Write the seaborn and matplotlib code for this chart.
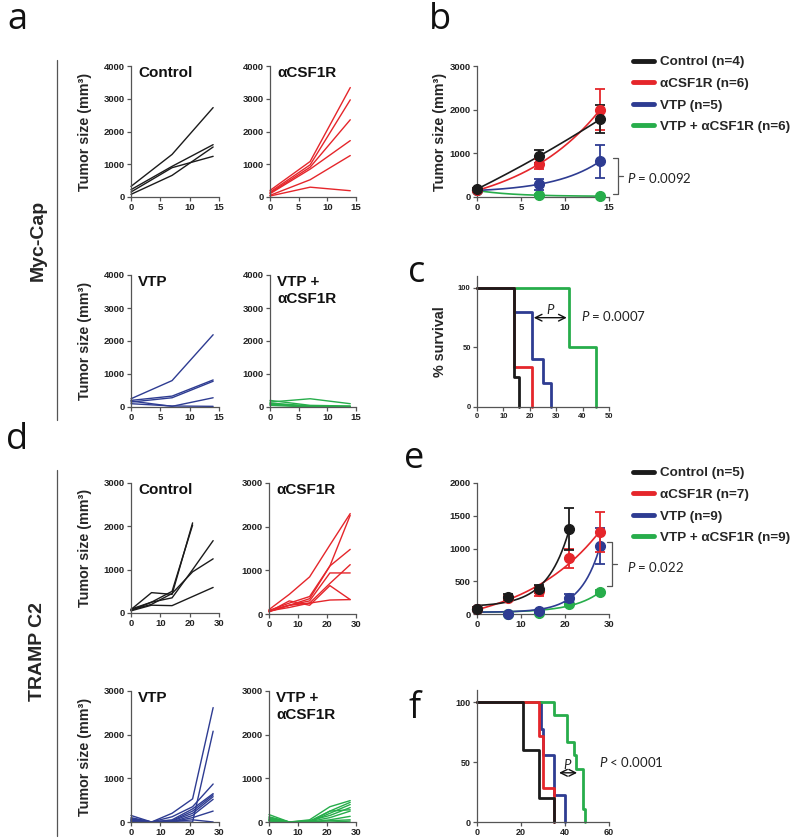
import numpy as np
import pandas as pd
import matplotlib
matplotlib.use("Agg")
import matplotlib.pyplot as plt
import seaborn as sns
from matplotlib.lines import Line2D

sns.set_theme(style="ticks")
plt.rcParams["font.family"] = ["Liberation Sans", "DejaVu Sans"]
plt.rcParams["mathtext.fontset"] = "custom"
plt.rcParams["mathtext.it"] = "Lato:italic"
plt.rcParams["mathtext.rm"] = "Lato"

# ---------------- data ----------------
groups = ["Control", "αCSF1R", "VTP", "VTP + αCSF1R"]
colors = ["#1b1b1b", "#e5262b", "#2e3c92", "#27ad4b"]

# Myc-Cap individual tumours (days 0, 7, 14)
days_mc = [0, 7, 14]
mc_control = [[324, 1300, 2730], [224, 936, 1598], [153, 895, 1242], [81, 660, 1527]]
mc_acsf = [[200, 1084, 3342], [150, 982, 2967], [120, 911, 2359], [100, 851, 1722],
           [50, 527, 1266], [30, 300, 192]]
mc_vtp = [[250, 800, 2190], [200, 330, 820], [150, 280, 780], [180, 20, 280], [100, 30, 20]]
mc_combo = [[150, 250, 100], [200, 50, 30], [100, 20, 10], [120, 30, 0], [80, 10, 20], [50, 0, 0]]

# TRAMP C2 individual tumours (days 0, 7, 14, 21, 28)
days_tr = [0, 7, 14, 21, 28]
tr_control = [[80, 470, 430, 2080, None], [60, 250, 500, 2030, None],
              [90, 250, 350, 1000, 1670], [70, 200, 450, 950, 1250],
              [50, 180, 170, 380, 590]]
tr_acsf = [[100, 450, 850, 1580, 2300], [50, 200, 350, 1100, 2260],
           [80, 250, 400, 1100, 1480], [60, 200, 300, 940, 940],
           [70, 150, 250, 700, 1130], [50, 300, 200, 650, 330],
           [80, 200, 250, 320, 330]]
tr_vtp = [[150, 0, 200, 530, 2620], [100, 0, 0, 0, 2080], [80, 0, 120, 350, 870],
          [50, 0, 50, 300, 650], [30, 0, 30, 250, 620], [60, 0, 20, 200, 580],
          [40, 0, 0, 150, 520], [20, 0, 0, 100, 250], [10, 0, 10, 50, 0]]
tr_combo = [[170, 0, 50, 350, 490], [120, 0, 20, 250, 450], [80, 0, 0, 200, 400],
            [60, 0, 30, 150, 330], [50, 0, 10, 100, 250], [40, 0, 0, 50, 130],
            [30, 0, 0, 30, 50], [20, 0, 0, 0, 20], [100, 0, 0, 250, 280]]

# panel b: mean ± SEM
b_days = [0, 7, 14]
b_mean = [[180, 930, 1780], [150, 750, 2000], [150, 290, 820], [150, 40, 20]]
b_err = [[30, 150, 320], [30, 110, 470], [20, 130, 375], [20, 20, 10]]
b_labels = ["Control (n=4)", "αCSF1R (n=6)", "VTP (n=5)", "VTP + αCSF1R (n=6)"]

# panel e: mean ± SEM
e_days = [[0, 7, 14, 21], [0, 7, 14, 21, 28], [0, 7, 14, 21, 28], [0, 7, 14, 21, 28]]
e_mean = [[80, 260, 380, 1300], [75, 240, 350, 850, 1250],
          [80, 0, 40, 250, 1040], [80, 0, 10, 160, 330]]
e_err = [[20, 50, 60, 320], [15, 40, 70, 150, 310],
         [10, 5, 20, 60, 270], [10, 5, 10, 30, 40]]
e_labels = ["Control (n=5)", "αCSF1R (n=7)", "VTP (n=9)", "VTP + αCSF1R (n=9)"]

# panel c: Kaplan-Meier steps
c_t = [[0, 14, 16], [0, 14, 21], [0, 14, 21, 25, 28], [0, 35, 45]]
c_s = [[100, 25, 0], [100, 33.3, 0], [100, 80, 40, 20, 0], [100, 50, 0]]
# panel f
f_t = [[0, 21, 28, 35], [0, 28, 30, 35], [0, 29, 30, 35, 40], [0, 35, 41, 44, 45, 48, 49]]
f_s = [[100, 60, 20, 0], [100, 71.4, 28.6, 0], [100, 77.8, 55.6, 22.2, 0],
       [100, 88.9, 66.7, 55.6, 44.4, 11.1, 0]]

# ---------------- helpers ----------------
W, H = 800, 839
fig = plt.figure(figsize=(W / 100, H / 100), dpi=100)


def add_ax(x0, y0, x1, y1):
    return fig.add_axes([x0 / W, 1 - y1 / H, (x1 - x0) / W, (y1 - y0) / H])


def fx(px):
    return px / W


def fy(py):
    return 1 - py / H


def style(ax, fs=6.8):
    sns.despine(ax=ax)
    for s in ["left", "bottom"]:
        ax.spines[s].set_color("#555555")
        ax.spines[s].set_linewidth(0.9)
    ax.tick_params(direction="out", length=3, width=0.9, color="#555555",
                   labelsize=fs, pad=1.5, labelcolor="#222222")
    for lab in ax.get_xticklabels() + ax.get_yticklabels():
        lab.set_fontweight("bold")
    ax.set_xlabel("")


def spaghetti(ax, days, series, color, xmax, ymax, xticks, yticks, title, ylabel):
    rows = []
    for i, s in enumerate(series):
        for d, v in zip(days, s):
            if v is not None:
                rows.append({"day": d, "size": v, "mouse": i})
    df = pd.DataFrame(rows)
    sns.lineplot(data=df, x="day", y="size", units="mouse", estimator=None,
                 color=color, lw=1.0, ax=ax, legend=False)
    for ln in ax.lines:
        ln.set_clip_on(False)
    ax.set_xlim(0, xmax)
    ax.set_ylim(0, ymax)
    ax.set_xticks(xticks)
    ax.set_yticks(yticks)
    ax.text(0.08, 1.0, title, transform=ax.transAxes, ha="left", va="top",
            fontsize=11, fontweight="bold", color="#111111", linespacing=1.25)
    if ylabel:
        ax.set_ylabel("Tumor size (mm³)", fontsize=10.3, fontweight="bold")
        ax.yaxis.set_label_coords(-0.44, 0.5)
    else:
        ax.set_ylabel("")
    style(ax)


def expfit(x, y, xs):
    x = np.asarray(x, float)
    y = np.asarray(y, float)
    best = None
    for k in np.linspace(-0.3, 0.4, 1401):
        if abs(k) < 1e-4:
            continue
        A = np.column_stack([np.ones_like(x), np.exp(k * x)])
        coef, *_ = np.linalg.lstsq(A, y, rcond=None)
        sse = ((A @ coef - y) ** 2).sum()
        if best is None or sse < best[0]:
            best = (sse, k, coef)
    _, k, c = best
    return c[0] + c[1] * np.exp(k * xs)


def mean_panel(ax, days_list, means, errs, ymax, yticks, xmax, xticks):
    order = [3, 2, 1, 0]
    for gi in order:
        d = np.asarray(days_list[gi], float)
        xs = np.linspace(d.min(), d.max(), 200)
        ys = expfit(d, means[gi], xs)
        ax.plot(xs, ys, color=colors[gi], lw=1.2, clip_on=False, zorder=2 + (3 - gi) * 0.1)
        ax.errorbar(d, means[gi], yerr=errs[gi], fmt="o", color=colors[gi], ms=7,
                    capsize=3.5, elinewidth=1.3, capthick=1.3, clip_on=False,
                    zorder=3 + (3 - gi) * 0.1)
    ax.set_xlim(0, xmax)
    ax.set_ylim(0, ymax)
    ax.set_xticks(xticks)
    ax.set_yticks(yticks)
    style(ax)


def km_panel(ax, ts, ss, xmax, xticks, fs):
    z = {2: 2.0, 3: 2.1, 1: 2.2, 0: 2.3}
    for gi in [2, 3, 1, 0]:
        ax.step(ts[gi], ss[gi], where="post", color=colors[gi], lw=2.0,
                clip_on=False, zorder=z[gi])
    ax.set_xlim(0, xmax)
    ax.set_ylim(0, 110)
    ax.set_xticks(xticks)
    ax.set_yticks([0, 50, 100])
    style(ax, fs)


def legend(labels, x_px, y_px):
    handles = [Line2D([0], [0], color=c, lw=3.5) for c in colors]
    leg = fig.legend(handles, labels, loc="upper left",
                     bbox_to_anchor=(fx(x_px), fy(y_px)), frameon=False,
                     borderpad=0, borderaxespad=0, handlelength=1.55,
                     handletextpad=0.45, labelspacing=0.68,
                     prop={"weight": "bold", "size": 9.7})
    return leg


def bracket(x_px, y0_px, y1_px):
    c = "#555555"
    ym = (y0_px + y1_px) / 2
    fig.add_artist(Line2D([fx(x_px - 5), fx(x_px), fx(x_px), fx(x_px - 5)],
                          [fy(y0_px), fy(y0_px), fy(y1_px), fy(y1_px)],
                          color=c, lw=0.9))
    fig.add_artist(Line2D([fx(x_px), fx(x_px + 5)], [fy(ym), fy(ym)], color=c, lw=0.9))


# ---------------- panel a ----------------
ax = add_ax(131, 66, 219, 197)
spaghetti(ax, days_mc, mc_control, colors[0], 15, 4000, [0, 5, 10, 15],
          [0, 1000, 2000, 3000, 4000], "Control", True)
ax = add_ax(270, 66, 356, 197)
spaghetti(ax, days_mc, mc_acsf, colors[1], 15, 4000, [0, 5, 10, 15],
          [0, 1000, 2000, 3000, 4000], "αCSF1R", False)
ax = add_ax(131, 275, 219, 407)
spaghetti(ax, days_mc, mc_vtp, colors[2], 15, 4000, [0, 5, 10, 15],
          [0, 1000, 2000, 3000, 4000], "VTP", True)
ax = add_ax(270, 275, 356, 407)
spaghetti(ax, days_mc, mc_combo, colors[3], 15, 4000, [0, 5, 10, 15],
          [0, 1000, 2000, 3000, 4000], "VTP +\nαCSF1R", False)

# ---------------- panel b ----------------
ax = add_ax(477, 66, 609, 197)
mean_panel(ax, [b_days] * 4, b_mean, b_err, 3000, [0, 1000, 2000, 3000], 15, [0, 5, 10, 15])
ax.set_ylabel("Tumor size (mm³)", fontsize=10.3, fontweight="bold")
ax.yaxis.set_label_coords(-0.23, 0.5)
legend(b_labels, 633, 56)
bracket(618, 158, 194)
fig.text(fx(627), fy(178), r"$P$ = 0.0092", fontsize=9.5, family="Lato",
         ha="left", va="center", color="#222222")

# ---------------- panel c ----------------
ax = add_ax(477, 276, 609, 407)
km_panel(ax, c_t, c_s, 50, [0, 10, 20, 30, 40, 50], 5.5)
ax.set_ylabel("% survival", fontsize=10.3, fontweight="bold")
ax.yaxis.set_label_coords(-0.23, 0.5)
ax.annotate("", xy=(21.5, 75), xytext=(34, 75),
            arrowprops=dict(arrowstyle="<->", color="#111111", lw=1.0,
                            shrinkA=0, shrinkB=0))
ax.text(28, 76.5, r"$P$", fontsize=9.5, family="Lato", ha="center", va="bottom")
ax.text(39.5, 76, r"$P$ = 0.0007", fontsize=9.5, family="Lato", ha="left",
        va="center", color="#222222")

# ---------------- panel d ----------------
ax = add_ax(131, 483, 219, 613)
spaghetti(ax, days_tr, tr_control, colors[0], 30, 3000, [0, 10, 20, 30],
          [0, 1000, 2000, 3000], "Control", True)
ax = add_ax(269, 483, 356, 614)
spaghetti(ax, days_tr, tr_acsf, colors[1], 30, 3000, [0, 10, 20, 30],
          [0, 1000, 2000, 3000], "αCSF1R", False)
ax = add_ax(131, 691, 219, 822)
spaghetti(ax, days_tr, tr_vtp, colors[2], 30, 3000, [0, 10, 20, 30],
          [0, 1000, 2000, 3000], "VTP", True)
ax = add_ax(269, 691, 356, 822)
spaghetti(ax, days_tr, tr_combo, colors[3], 30, 3000, [0, 10, 20, 30],
          [0, 1000, 2000, 3000], "VTP +\nαCSF1R", False)

# ---------------- panel e ----------------
ax = add_ax(477, 483, 609, 614)
mean_panel(ax, e_days, e_mean, e_err, 2000, [0, 500, 1000, 1500, 2000], 30, [0, 10, 20, 30])
ax.set_ylabel("")
legend(e_labels, 633, 467)
bracket(612, 542, 586)
fig.text(fx(627), fy(567), r"$P$ = 0.022", fontsize=9.5, family="Lato",
         ha="left", va="center", color="#222222")

# ---------------- panel f ----------------
ax = add_ax(477, 690, 609, 822)
km_panel(ax, f_t, f_s, 60, [0, 20, 40, 60], 6.5)
ax.set_ylabel("")
ax.annotate("", xy=(37.3, 41), xytext=(45.5, 41),
            arrowprops=dict(arrowstyle="<->", color="#111111", lw=1.0,
                            shrinkA=0, shrinkB=0))
ax.text(41.2, 42.5, r"$P$", fontsize=9.5, family="Lato", ha="center", va="bottom")
ax.text(55.5, 50, r"$P$ < 0.0001", fontsize=9.5, family="Lato", ha="left",
        va="center", color="#222222")

# ---------------- labels ----------------
for lab, x, y in [("a", 17, 20), ("b", 440, 20), ("c", 417, 273),
                  ("d", 17, 440), ("e", 414, 459), ("f", 415, 709)]:
    fig.text(fx(x), fy(y), lab, fontsize=26, family="Open Sans", ha="center",
             va="center", color="#111111")

fig.text(fx(38), fy(240), "Myc-Cap", rotation=90, fontsize=14, fontweight="bold",
         ha="center", va="center")
fig.text(fx(38), fy(652), "TRAMP C2", rotation=90, fontsize=14, fontweight="bold",
         ha="center", va="center")
fig.add_artist(Line2D([fx(57), fx(57)], [fy(60), fy(420)], color="#555555", lw=0.9))
fig.add_artist(Line2D([fx(57), fx(57)], [fy(470), fy(836)], color="#555555", lw=0.9))

fig.savefig("out.png", dpi=100)
